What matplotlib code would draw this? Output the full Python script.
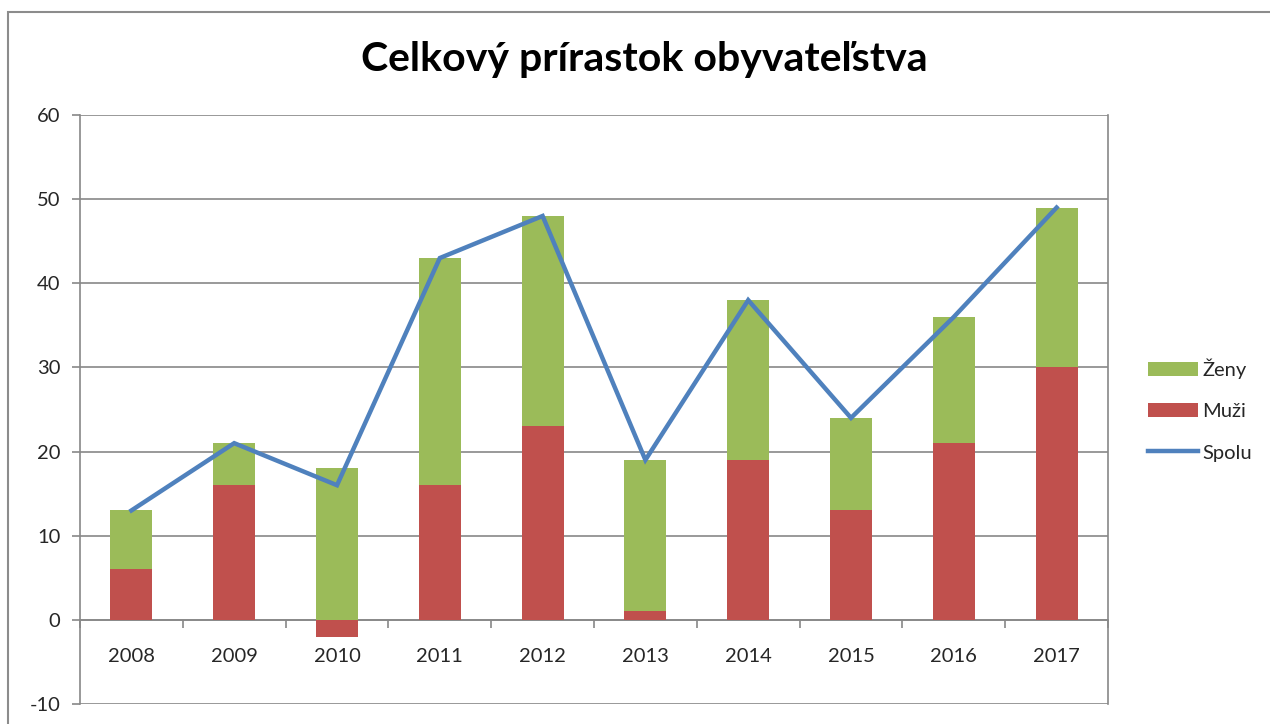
import matplotlib
matplotlib.use("Agg")
import matplotlib.pyplot as plt
from matplotlib.patches import Rectangle
import numpy as np

plt.rcParams['font.family'] = ['Lato', 'DejaVu Sans']
plt.rcParams['axes.unicode_minus'] = False

years = ['2008', '2009', '2010', '2011', '2012', '2013', '2014', '2015', '2016', '2017']
muzi = [6, 16, -2, 16, 23, 1, 19, 13, 21, 30]
zeny = [7, 5, 18, 27, 25, 18, 19, 11, 15, 19]
spolu = [13, 21, 16, 43, 48, 19, 38, 24, 36, 49]

c_green = '#9BBB59'
c_red = '#C0504D'
c_blue = '#4F81BD'
c_grid = '#888888'

fig = plt.figure(figsize=(12.7, 7.24), dpi=100)
fig.patches.append(Rectangle((8/1270, -0.01), 1.02, (724-12)/724 + 0.01, transform=fig.transFigure,
                             fill=False, edgecolor='#8c8c8c', linewidth=1.5))
ax = fig.add_axes([80/1270, 20/724, (1108-80)/1270, (704-115)/724])

x = np.arange(len(years))
w = 0.41
# Excel-style stacking: positive values stack from 0, negatives below 0
muzi_arr = np.array(muzi, dtype=float)
zeny_arr = np.array(zeny, dtype=float)
zeny_bottom = np.where(muzi_arr > 0, muzi_arr, 0)
ax.bar(x, muzi_arr, w, color=c_red, zorder=3, label='Muži')
ax.bar(x, zeny_arr, w, bottom=zeny_bottom, color=c_green, zorder=3, label='Ženy')
ax.plot(x, spolu, color=c_blue, linewidth=3.2, zorder=4, label='Spolu',
        solid_joinstyle='miter')

ax.set_xlim(-0.5, len(years) - 0.5)
ax.set_ylim(-10, 60)
ax.set_yticks(range(-10, 61, 10))
ax.yaxis.grid(True, color=c_grid, linewidth=1.2, zorder=0)
ax.set_axisbelow(True)

for s in ['top']:
    ax.spines[s].set_visible(False)
ax.spines['left'].set_color(c_grid)
ax.spines['right'].set_color(c_grid)
ax.spines['left'].set_linewidth(1.2)
ax.spines['right'].set_linewidth(1.2)
ax.spines['bottom'].set_position(('data', 0))
ax.spines['bottom'].set_color(c_grid)
ax.spines['bottom'].set_linewidth(1.2)
ax.spines['bottom'].set_zorder(2)

ax.set_xticks(x)
ax.set_xticklabels(years)
ax.set_xticks(np.arange(-0.5, len(years), 1.0), minor=True)
ax.tick_params(axis='x', which='major', length=0, pad=20, labelsize=14.5, colors='#262626')
ax.tick_params(axis='x', which='minor', length=6, width=1.2, color=c_grid)
ax.tick_params(axis='y', length=6, width=1.2, color=c_grid, labelsize=14.5, labelcolor='#262626', pad=8)

fig.text(644/1270, (724-60)/724, 'Celkový prírastok obyvateľstva', ha='center', va='center',
         fontsize=29.5, fontweight='bold', color='black')

handles, labels = ax.get_legend_handles_labels()
order = [labels.index('Ženy'), labels.index('Muži'), labels.index('Spolu')]
leg = fig.legend([handles[i] for i in order], [labels[i] for i in order],
                 loc='center left', bbox_to_anchor=(1140/1270, (724-410)/724),
                 frameon=False, fontsize=14.5, handlelength=2.5, handleheight=0.7,
                 labelspacing=1.2, handletextpad=0.2, borderaxespad=0)
for t in leg.get_texts():
    t.set_color('#262626')

fig.savefig('out.png', dpi=100)
